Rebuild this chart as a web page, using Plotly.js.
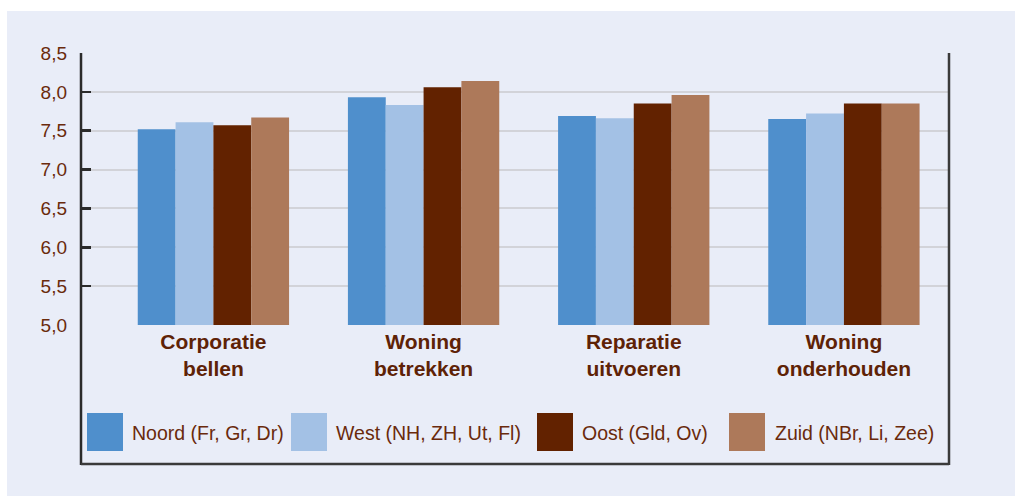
<!DOCTYPE html>
<html>
<head>
<meta charset="utf-8">
<script src="https://cdn.plot.ly/plotly-3.0.1.min.js"></script>
<style>
  html, body { margin: 0; padding: 0; background: #ffffff; }
  #chart { position: absolute; left: 7px; top: 11px; width: 1008px; height: 485px; }
</style>
</head>
<body>
<div id="chart"></div>
<script>
// Categorieën en scores per regio
const categorieen = ['Corporatie<br>bellen', 'Woning<br>betrekken', 'Reparatie<br>uitvoeren', 'Woning<br>onderhouden'];
const regios = ['Noord (Fr, Gr, Dr)', 'West (NH, ZH, Ut, Fl)', 'Oost (Gld, Ov)', 'Zuid (NBr, Li, Zee)'];
const noord = [7.52, 7.93, 7.69, 7.65];
const west = [7.61, 7.83, 7.66, 7.72];
const oost = [7.57, 8.06, 7.85, 7.85];
const zuid = [7.67, 8.14, 7.96, 7.85];
const yTicks = [5.0, 5.5, 6.0, 6.5, 7.0, 7.5, 8.0, 8.5];

const kleuren = ['#4f8fcc', '#a3c1e5', '#622200', '#ad795a'];
const series = [noord, west, oost, zuid];

const bruin = '#6a2a0c';
const smal = '"Liberation Sans Narrow", "Arial Narrow", "Liberation Sans", Arial, sans-serif';

// pixelposities (van de afbeelding) naar paper-coordinaten
const px = X => (X - 81) / 868;
const py = Y => (325 - Y) / 272;

const data = series.map((waarden, i) => ({
  type: 'bar',
  name: regios[i],
  x: categorieen,
  y: waarden,
  marker: { color: kleuren[i] },
  hoverinfo: 'x+y'
}));

// frame om de grafiek (links, rechts, onder)
const shapes = [
  { type: 'line', xref: 'paper', yref: 'paper', x0: 0, x1: 0, y0: py(465), y1: 1, line: { color: '#2b2b2b', width: 2.5 } },
  { type: 'line', xref: 'paper', yref: 'paper', x0: 1, x1: 1, y0: py(465), y1: 1, line: { color: '#3a3a3a', width: 2.5 } },
  { type: 'line', xref: 'paper', yref: 'paper', x0: 0, x1: 1, y0: py(464), y1: py(464), line: { color: '#3a3a3a', width: 2.5 } }
];

// eigen legenda met grote blokjes
const blokX = [87, 291, 537, 729];
const tekstX = [130, 334, 580, 773];
const annotations = [];
regios.forEach((naam, i) => {
  shapes.push({
    type: 'rect', xref: 'paper', yref: 'paper',
    x0: px(blokX[i]), x1: px(blokX[i] + 36),
    y0: py(451), y1: py(413),
    fillcolor: kleuren[i], line: { width: 0 }
  });
  annotations.push({
    xref: 'paper', yref: 'paper', x: px(tekstX[i]), y: py(433),
    xanchor: 'left', yanchor: 'middle', showarrow: false,
    text: naam, font: { family: smal, size: 19.5, color: bruin }
  });
});

const layout = {
  width: 1008,
  height: 485,
  paper_bgcolor: '#e9edf8',
  plot_bgcolor: '#e9edf8',
  separators: ',.',
  margin: { l: 74, r: 66, t: 42, b: 171 },
  showlegend: false,
  barmode: 'group',
  bargap: 0.28,
  bargroupgap: 0,
  xaxis: {
    range: [-0.63, 3.5],
    showgrid: false,
    zeroline: false,
    showline: false,
    ticks: '',
    tickfont: { family: '"Liberation Sans", Arial, sans-serif', size: 21, color: '#5e2206', weight: 'bold' },
    ticklabelstandoff: 2
  },
  yaxis: {
    range: [5, 8.5],
    tickvals: yTicks,
    tickformat: '.1f',
    ticks: 'inside',
    ticklen: 10,
    tickwidth: 2.5,
    tickcolor: '#2b2b2b',
    showgrid: true,
    gridcolor: '#d2d3d9',
    gridwidth: 2,
    zeroline: false,
    showline: false,
    ticklabelstandoff: 13,
    tickfont: { family: smal, size: 19, color: bruin }
  },
  shapes: shapes,
  annotations: annotations
};

Plotly.newPlot('chart', data, layout, { displayModeBar: false, staticPlot: true });
</script>
</body>
</html>
